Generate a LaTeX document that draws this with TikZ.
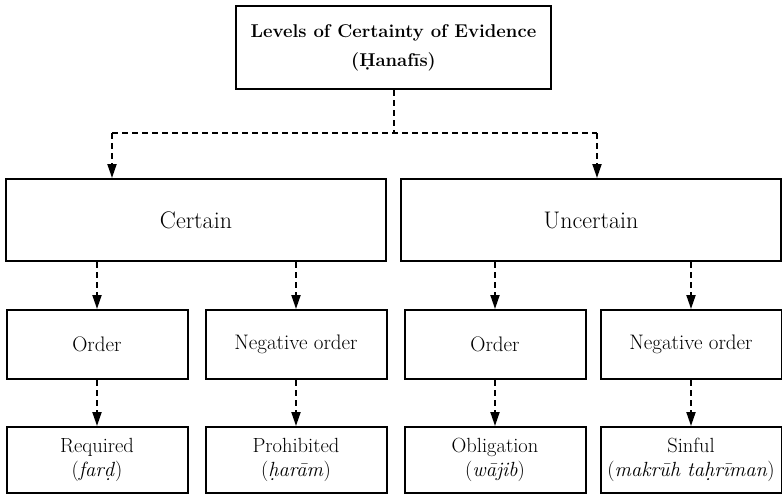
\documentclass[tikz,border=0pt]{standalone}
\usepackage{tikz}
\usetikzlibrary{arrows.meta,calc,positioning}

\begin{document}
\begin{tikzpicture}[
  x=1pt, y=-1pt,
  >={Triangle[length=14pt,width=9pt]},
  titlebox/.style={draw, line width=2pt, minimum width=315pt, minimum height=83pt,
    align=center, inner sep=2pt, font=\fontsize{18.5}{29}\selectfont\bfseries},
  levelbox/.style={draw, line width=2pt, minimum width=380pt, minimum height=82pt,
    font=\fontsize{24}{28}\selectfont},
  orderbox/.style={draw, line width=2pt, minimum width=181pt, minimum height=69pt,
    inner sep=2pt, font=\fontsize{21}{25}\selectfont},
  rulingbox/.style={orderbox, minimum height=66pt, align=center,
    font=\fontsize{20.5}{24}\selectfont},
  dashline/.style={line width=2pt, dash pattern=on 6pt off 4pt},
  flow/.style={->, dashline}
]
\useasboundingbox (0,0) rectangle (782,495);
\node[titlebox] (title) at (393.5,47.5)
  {Levels of Certainty of Evidence\\(Ḥanafīs)};
\node[levelbox] (certain) at (196,220) {Certain};
\node[levelbox] (uncertain) at (591,220) {Uncertain};
\node[orderbox] (orderc) at (97,344.5) {Order};
\node[orderbox] (negc) at (296,344.5) {Negative order};
\node[orderbox] (orderu) at (495,344.5) {Order};
\node[orderbox] (negu) at (691,344.5) {Negative order};
\node[rulingbox] (fard) at (97,460) {Required\\(\textit{farḍ})};
\node[rulingbox] (haram) at (296,460) {Prohibited\\(\textit{ḥarām})};
\node[rulingbox] (wajib) at (495,460) {Obligation\\(\textit{wājib})};
\node[rulingbox] (makruh) at (691,460) {Sinful\\(\textit{makrūh taḥrīman})};
\coordinate (lsplit) at (112,133);
\coordinate (rsplit) at (597,133);
\draw[dashline] (title.south) -- (title.south |- lsplit);
\draw[dashline] (lsplit) -- (rsplit);
\draw[flow] (lsplit) -- (lsplit |- certain.north);
\draw[flow] (rsplit) -- (rsplit |- uncertain.north);
\draw[flow] (certain.south -| orderc.north) -- (orderc.north);
\draw[flow] (certain.south -| negc.north) -- (negc.north);
\draw[flow] (uncertain.south -| orderu.north) -- (orderu.north);
\draw[flow] (uncertain.south -| negu.north) -- (negu.north);
\draw[flow] (orderc) -- (fard);
\draw[flow] (negc) -- (haram);
\draw[flow] (orderu) -- (wajib);
\draw[flow] (negu) -- (makruh);
\end{tikzpicture}
\end{document}
